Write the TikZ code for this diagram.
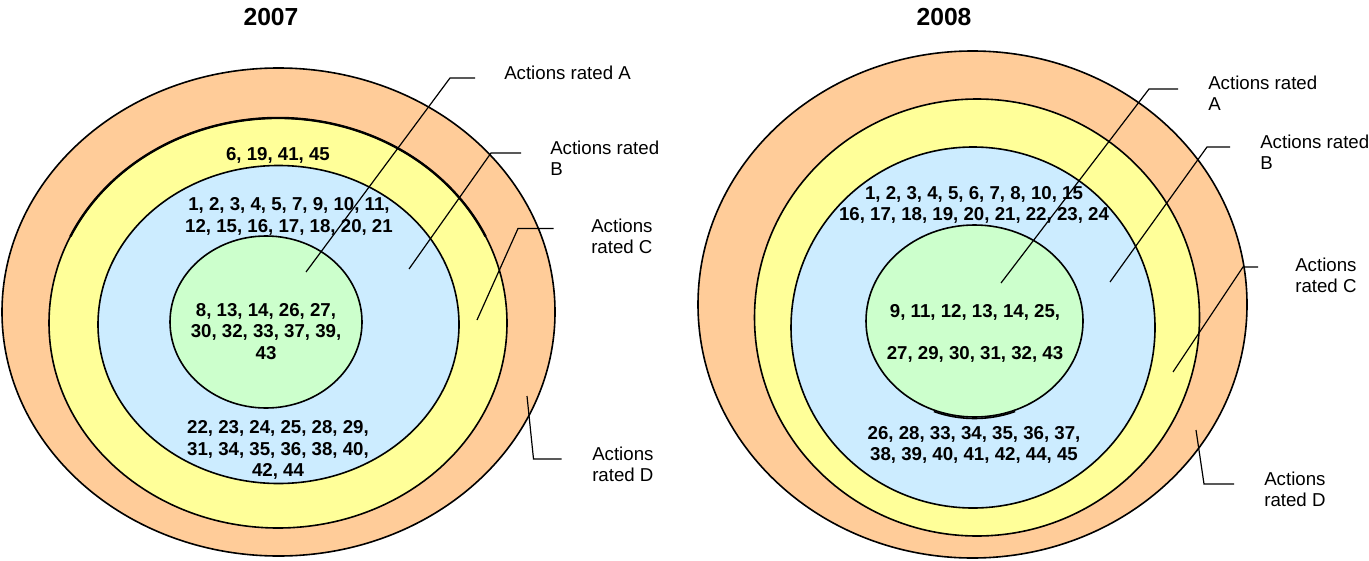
\documentclass[tikz,border=0pt]{standalone}
\usepackage{fontspec}
\setmainfont{Liberation Sans}
\usetikzlibrary{positioning}
\definecolor{peach}{HTML}{FFCC99}
\definecolor{lemon}{HTML}{FFFF99}
\definecolor{sky}{HTML}{CCECFF}
\definecolor{mint}{HTML}{CCFFCC}
\tikzset{
  ring/.style={draw=black, line width=1.2pt},
  nums/.style={font=\fontsize{14}{16}\selectfont\bfseries, align=center, inner sep=0pt},
  rated/.style={font=\fontsize{14}{15.5}\selectfont, align=left, anchor=west, inner sep=0pt},
  yeartitle/.style={font=\fontsize{18.5}{22}\selectfont\bfseries, inner sep=0pt},
  guide/.style={line width=0.9pt, color=black}
}

\begin{document}
\begin{tikzpicture}[x=0.75pt, y=-0.75pt]
  \useasboundingbox (0,0) rectangle (1369,560);

  % 2007
  \node (year07) [yeartitle] at (271,17) {2007};
  \draw [ring, fill=peach] (278.5,312) ellipse [x radius=276.5, y radius=244];
  \draw [ring, fill=lemon] (278,323) ellipse [x radius=229, y radius=205];
  \draw [ring, line width=1.8pt] (278,323) ++(205:229 and 205) arc [start angle=205, end angle=335, x radius=229, y radius=205];
  \draw [ring, fill=sky] (278.5,324.5) ellipse [x radius=180.5, y radius=159];
  \draw [ring, fill=mint] (266,322) ellipse [x radius=96, y radius=86];
  \node (d07) [nums] at (278,155) {6, 19, 41, 45};
  \node (b07top) [nums] at (289,216.5) {1, 2, 3, 4, 5, 7, 9, 10, 11,\\12, 15, 16, 17, 18, 20, 21};
  \node (a07) [nums] at (266,331.5) {8, 13, 14, 26, 27,\\30, 32, 33, 37, 39,\\43};
  \node (b07bot) [nums] at (278,450) {22, 23, 24, 25, 28, 29,\\31, 34, 35, 36, 38, 40,\\42, 44};

  \node (labA07) [rated] at (504,73) {Actions rated A};
  \node (labB07) [rated] at (550,158) {Actions rated\\B};
  \node (labC07) [rated] at (591,236.5) {Actions\\rated C};
  \node (labD07) [rated] at (592,464) {Actions\\rated D};

  \coordinate (tipA07) at (306,272);
  \coordinate (bendA07) at (450,78);
  \coordinate (endA07) at (475,78);
  \coordinate (tipB07) at (409,269);
  \coordinate (bendB07) at (491,153);
  \coordinate (endB07) at (521,153);
  \coordinate (tipC07) at (477,320);
  \coordinate (bendC07) at (518,228.5);
  \coordinate (endC07) at (553.5,228.5);
  \coordinate (tipD07) at (527,396);
  \coordinate (bendD07) at (533.5,459);
  \coordinate (endD07) at (561.5,459);
  \draw [guide] (tipA07) -- (bendA07) -- (endA07);
  \draw [guide] (tipB07) -- (bendB07) -- (endB07);
  \draw [guide] (tipC07) -- (bendC07) -- (endC07);
  \draw [guide] (tipD07) -- (bendD07) -- (endD07);

  % 2008
  \node (year08) [yeartitle] at (944,17) {2008};
  \draw [ring, fill=peach] (972.5,304.5) ellipse [x radius=274.5, y radius=253.5];
  \draw [ring, fill=lemon] (977,317.5) ellipse [x radius=222.5, y radius=218.5];
  \draw [ring, fill=sky] (973,327.5) ellipse [x radius=182, y radius=180.5];
  \draw [ring, fill=mint] (974.5,321) ellipse [x radius=108.5, y radius=96];
  \draw [ring] (974.5,322.5) ++(68:108.5 and 96) arc [start angle=68, end angle=112, x radius=108.5, y radius=96];
  \node (b08top) [nums] at (974,205) {1, 2, 3, 4, 5, 6, 7, 8, 10, 15\\16, 17, 18, 19, 20, 21, 22, 23, 24};
  \node (a08) [nums] at (975,333.5) {9, 11, 12, 13, 14, 25,\\[16pt]27, 29, 30, 31, 32, 43};
  \node (b08bot) [nums] at (974,445) {26, 28, 33, 34, 35, 36, 37,\\38, 39, 40, 41, 42, 44, 45};

  \node (labA08) [rated] at (1208,93.5) {Actions rated\\A};
  \node (labB08) [rated] at (1260,152.5) {Actions rated\\B};
  \node (labC08) [rated] at (1295,275.5) {Actions\\rated C};
  \node (labD08) [rated] at (1264,489.5) {Actions\\rated D};

  \coordinate (tipA08) at (1001,283);
  \coordinate (bendA08) at (1149,89);
  \coordinate (endA08) at (1178,89);
  \coordinate (tipB08) at (1110,282);
  \coordinate (bendB08) at (1207,147);
  \coordinate (endB08) at (1230,147);
  \coordinate (tipC08) at (1173,372);
  \coordinate (bendC08) at (1243,267);
  \coordinate (endC08) at (1258,267);
  \coordinate (tipD08) at (1196,430);
  \coordinate (bendD08) at (1204,484);
  \coordinate (endD08) at (1234,484);
  \draw [guide] (tipA08) -- (bendA08) -- (endA08);
  \draw [guide] (tipB08) -- (bendB08) -- (endB08);
  \draw [guide] (tipC08) -- (bendC08) -- (endC08);
  \draw [guide] (tipD08) -- (bendD08) -- (endD08);
\end{tikzpicture}
\end{document}
